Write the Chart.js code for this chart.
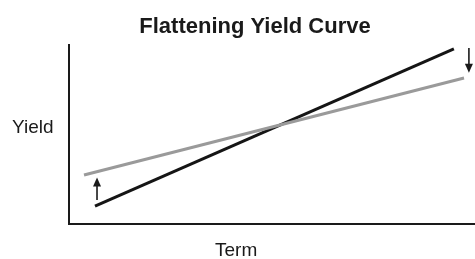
<!DOCTYPE html>
<html>
<head>
<meta charset="utf-8">
<script src="https://cdn.jsdelivr.net/npm/chart.js@4"></script>
<style>
  html, body { margin: 0; padding: 0; background: #fff; }
  #wrap { width: 475px; height: 259px; }
</style>
</head>
<body>
<div id="wrap"><canvas id="myChart"></canvas></div>
<script>
// curve end points (term, yield) on a 0-10 conceptual scale
const steepTerm = [0.64, 9.48];
const steepYield = [1.0, 9.78];
const flatTerm = [0.37, 9.73];
const flatYield = [2.74, 8.16];

// arrows showing the move of each end: [term, from yield, to yield]
const shortEndArrow = [0.69, 1.34, 2.6];
const longEndArrow = [9.85, 9.83, 8.45];

const titleText = 'Flattening Yield Curve';
const yTitle = 'Yield';
const xTitle = 'Term';

const toPoints = (xs, ys) => xs.map((x, i) => ({ x: x, y: ys[i] }));

const decorations = {
    id: 'decorations',
    afterDraw(chart) {
        const c = chart.ctx;
        const xs = chart.scales.x, ys = chart.scales.y;

        c.save();
        c.fillStyle = '#1a1a1a';
        c.textBaseline = 'alphabetic';
        c.font = 'bold 22px "Liberation Sans", Arial, sans-serif';
        c.textAlign = 'center';
        c.fillText(titleText, 255, 33);
        c.font = '19px "Liberation Sans", Arial, sans-serif';
        c.textAlign = 'left';
        c.fillText(yTitle, 12, 133);
        c.fillText(xTitle, 215, 256);

        // arrows
        [shortEndArrow, longEndArrow].forEach(a => {
            const px = xs.getPixelForValue(a[0]);
            const y0 = ys.getPixelForValue(a[1]);
            const y1 = ys.getPixelForValue(a[2]);
            const dir = y1 < y0 ? -1 : 1;
            c.strokeStyle = '#1a1a1a';
            c.lineWidth = 1.6;
            c.beginPath();
            c.moveTo(px, y0);
            c.lineTo(px, y1 - dir * 6);
            c.stroke();
            c.beginPath();
            c.moveTo(px, y1);
            c.lineTo(px - 4, y1 - dir * 9);
            c.lineTo(px + 4, y1 - dir * 9);
            c.closePath();
            c.fill();
        });
        c.restore();
    }
};

new Chart(document.getElementById('myChart'), {
    type: 'line',
    data: {
        datasets: [
            {
                label: 'Before',
                data: toPoints(flatTerm, flatYield),
                borderColor: '#9a9a9a',
                borderWidth: 3,
                pointRadius: 0,
            },
            {
                label: 'After',
                data: toPoints(steepTerm, steepYield),
                borderColor: '#151515',
                borderWidth: 3,
                pointRadius: 0,
            }
        ]
    },
    options: {
        responsive: true,
        maintainAspectRatio: false,
        animation: false,
        layout: {
            padding: { left: 69, top: 45, right: 0, bottom: 35 }
        },
        plugins: {
            legend: { display: false },
            title: { display: false },
            tooltip: { enabled: false }
        },
        scales: {
            x: {
                type: 'linear',
                min: 0,
                max: 10,
                grid: { display: false, drawTicks: false },
                ticks: { display: false },
                border: { display: true, color: '#1a1a1a', width: 2 }
            },
            y: {
                min: 0,
                max: 10,
                grid: { display: false, drawTicks: false },
                ticks: { display: false },
                border: { display: true, color: '#1a1a1a', width: 2 }
            }
        }
    },
    plugins: [decorations]
});
</script>
</body>
</html>
